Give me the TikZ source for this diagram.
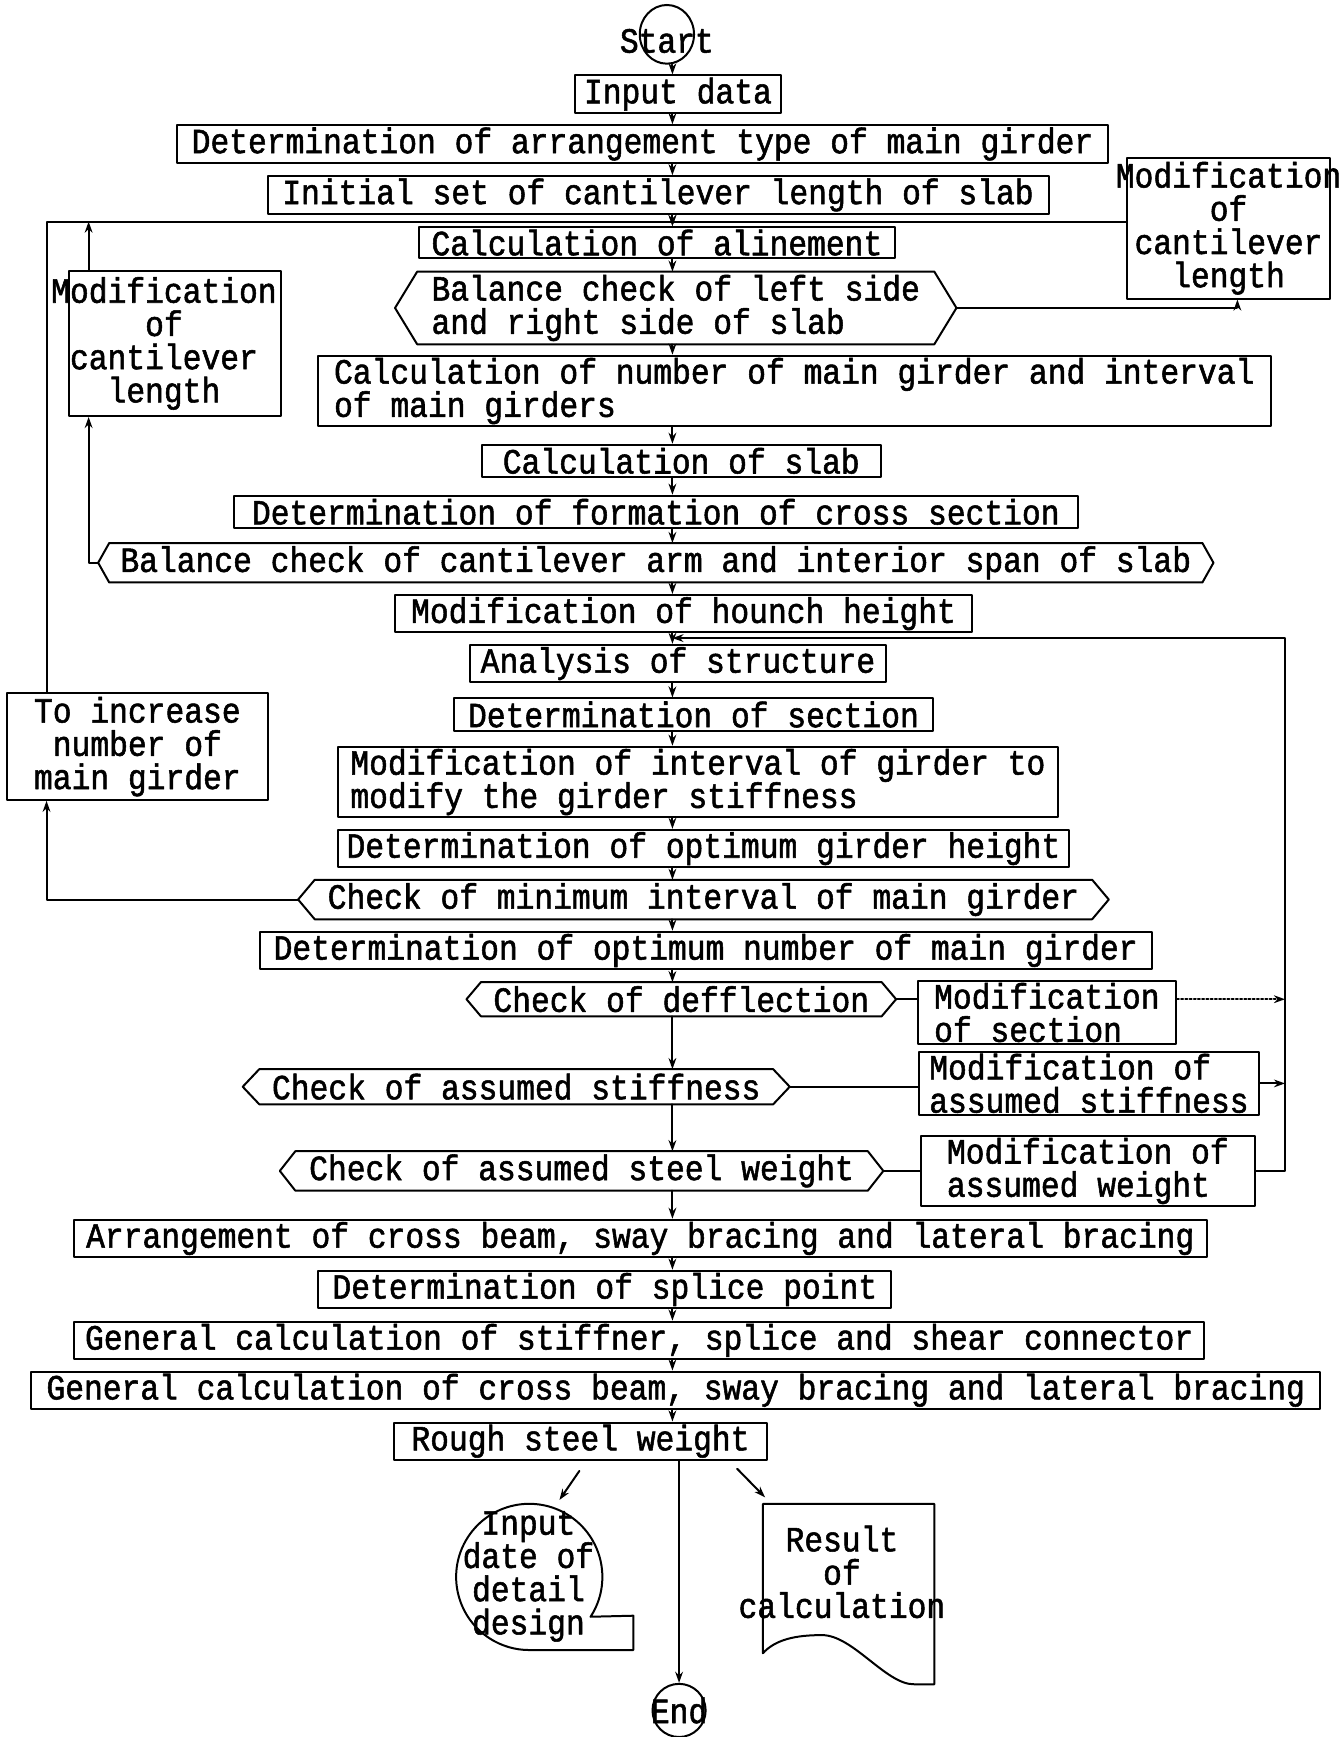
\documentclass[tikz,border=0pt]{standalone}
\usepackage{fontspec}
\newfontfamily\tw[FakeStretch=0.883,FakeBold=1.5]{Liberation Mono}
\usetikzlibrary{arrows.meta,shapes.geometric}

% decision box: hexagon drawn round a named node, #2 = length of the points
\newcommand{\hexbox}[2]{%
  \draw (#1.north west) -- (#1.north east) -- ([xshift=#2]#1.east)
     -- (#1.south east) -- (#1.south west) -- ([xshift=-#2]#1.west) -- cycle;}

\begin{document}
\begin{tikzpicture}[x=0.5pt,y=-0.5pt,line width=0.9pt,line cap=round,line join=round,
  font=\tw\fontsize{16}{15}\selectfont,
  >={Stealth[length=5pt,width=3.5pt]},
  sz/.style 2 args={minimum width=#1*0.5pt,minimum height=#2*0.5pt},
  blk/.style={draw,rectangle,inner sep=1pt},
  hex/.style={rectangle,inner sep=1pt},
  term/.style={draw,ellipse,inner sep=0pt}]

\useasboundingbox (0,0) rectangle (1209,1568);
\fill[white] (0,0) rectangle (1209,1568);

% guide lines of the chart
\coordinate (spine) at (607,0);
\coordinate (join)  at (607,200);
\coordinate (merge) at (607,576);
\coordinate (lft)   at (42,0);
\coordinate (lx)    at (80,0);
\coordinate (rx)    at (1160,0);

% main column
\node[term,sz={49}{53},label={[yshift=-3pt]center:Start}] (start) at (602,31) {};
\node[blk,sz={186}{30}] (input) at (612,85) {Input data};
\node[blk,sz={840}{31}] (arrange) at (580,130) {Determination of arrangement type of main girder};
\node[blk,sz={705}{32}] (initial) at (594,176) {Initial set of cantilever length of slab};
\node[blk,sz={430}{28}] (aline) at (593,219) {Calculation of alinement};
\node[hex,sz={465}{58},align=left] (bal1) at (610,278) {Balance check of left side\\and right side of slab};
\node[blk,sz={860}{59},align=left] (number) at (717,353) {Calculation of number of main girder and interval\\of main girders};
\node[blk,sz={360}{29}] (slab) at (615,416) {Calculation of slab};
\node[blk,sz={762}{29}] (formation) at (592,462) {Determination of formation of cross section};
\node[hex,sz={985}{31}] (bal2) at (592,508) {Balance check of cantilever arm and interior span of slab};
\node[blk,sz={521}{29}] (hounch) at (617,554) {Modification of hounch height};
\node[blk,sz={375}{29}] (analysis) at (612,599) {Analysis of structure};
\node[blk,sz={432}{29}] (section) at (626,645) {Determination of section};
\node[blk,sz={650}{61},align=left] (interval) at (630,706) {Modification of interval of girder to\\modify the girder stiffness};
\node[blk,sz={660}{30}] (height) at (635,766) {Determination of optimum girder height};
\node[hex,sz={700}{29}] (minint) at (635,812) {Check of minimum interval of main girder};
\node[blk,sz={805}{28}] (optnum) at (637,858) {Determination of optimum number of main girder};
\node[hex,sz={360}{29}] (defl) at (615,902) {Check of defflection};
\node[hex,sz={462}{30}] (stiff) at (466,981) {Check of assumed stiffness};
\node[hex,sz={515}{29}] (weight) at (525,1057) {Check of assumed steel weight};
\node[blk,sz={1023}{30}] (cross) at (578,1118) {Arrangement of cross beam, sway bracing and lateral bracing};
\node[blk,sz={517}{28}] (splice) at (546,1164) {Determination of splice point};
\node[blk,sz={1020}{30}] (stiffner) at (577,1210) {General calculation of stiffner, splice and shear connector};
\node[blk,sz={1164}{30}] (genbrace) at (610,1255) {General calculation of cross beam, sway bracing and lateral bracing};
\node[blk,sz={337}{29}] (rough) at (524,1301) {Rough steel weight};
\node[term,sz={48}{48},label=center:End] (finish) at (613,1544) {};

% hexagon outlines
\hexbox{bal1}{10pt}
\hexbox{bal2}{5pt}
\hexbox{minint}{7.5pt}
\hexbox{defl}{6.5pt}
\hexbox{stiff}{7.5pt}
\hexbox{weight}{7pt}

% side boxes
\node[blk,sz={184}{127},label={[align=center]center:Modification\\of\\cantilever\\length}] (rmod) at (1109,206) {};
\node[blk,sz={192}{131},label={[align=center,xshift=-5pt]center:Modification\\of\\cantilever\\length}] (lmod) at (158,310) {};
\node[blk,sz={236}{96},align=center] (incr) at (124,674) {To increase\\number of\\main girder};
\node[blk,sz={233}{56},align=left] (modsec) at (945,914) {Modification\\of section};
\node[blk,sz={307}{52},align=left] (modstiff) at (983,978) {Modification of\\assumed stiffness};
\node[blk,sz={302}{54},align=left] (modweight) at (982,1057) {Modification of\\assumed weight};

% outputs
\node[circle,sz={132}{132},inner sep=0pt,label={[align=center]center:Input\\date of\\detail\\design}] (detail) at (477,1423) {};
\node[rectangle,sz={153}{161},label={[align=center,xshift=-3pt,yshift=10pt]center:Result\\of\\calculation}] (result) at (766,1439) {};
\draw (detail.-33) arc[start angle=-33,end angle=270,radius=33pt] -- ++(47pt,0) -- ++(0,15.5pt) -- cycle;
\draw ([yshift=14pt]result.south west) -- (result.north west) -- (result.north east)
   -- (result.south east) -- ++(-9pt,0) .. controls (800,1521) and (770,1476) .. (742,1476)
   .. controls (718,1476) and (700,1480) .. ([yshift=14pt]result.south west);

% main flow
\foreach \a/\b in {start/input,input/arrange,arrange/initial,initial/aline,aline/bal1,
    bal1/number,number/slab,slab/formation,formation/bal2,bal2/hounch,hounch/analysis,
    analysis/section,section/interval,interval/height,height/minint,minint/optnum,
    optnum/defl,defl/stiff,stiff/weight,weight/cross,cross/splice,splice/stiffner,
    stiffner/genbrace,genbrace/rough}
  \draw[->] (\a.south -| spine) -- (\b.north -| spine);
\draw[->] (rough.south -| finish) -- (finish.north);
\draw[->] ([shift={(-1,9)}]rough.south) -- ([shift={(28,-69)}]detail.center);
\draw[->] ([shift={(-28,7)}]rough.south east) -- ([shift={(2,-6)}]result.north west);

% left loops
\draw[->] ([xshift=-7.5pt]minint.west) -| (incr.south -| lft);
\draw[->] (incr.north -| lft) |- (join) -- (aline.north -| spine);
\draw[->] ([xshift=-5pt]bal2.west) -| (lmod.south -| lx);
\draw[->] (lmod.north -| lx) -- (lx |- join);

% right loops
\draw[->] ([xshift=10pt]bal1.east) -| ([xshift=4pt]rmod.south);
\draw (rmod.west |- join) -- (join);
\draw ([xshift=6.5pt]defl.east) -- (defl.east -| modsec.west);
\draw ([xshift=7.5pt]stiff.east) -- (stiff.east -| modstiff.west);
\draw ([xshift=7pt]weight.east) -- (weight.east -| modweight.west);
\draw[->,densely dotted] (modsec.east |- defl) -- (rx |- defl);
\draw[->] (modstiff.east) -- (modstiff.east -| rx);
\draw[->] (modweight.east) -| (rx |- merge) -- (merge);

\end{tikzpicture}
\end{document}
